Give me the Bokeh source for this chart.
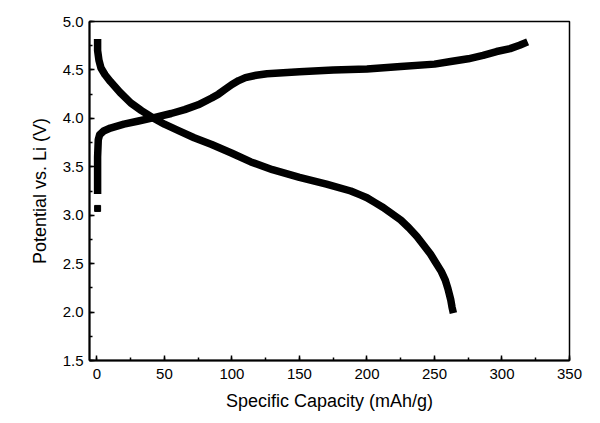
from bokeh.plotting import figure
from bokeh.models import SingleIntervalTicker, NumeralTickFormatter, Range1d
from bokeh.embed import file_html
from bokeh.resources import INLINE

# Discharge curve (mAh/g, V)
dis_cap = [0.5, 0.5, 1.5, 3, 6, 10, 17, 25, 33, 41, 50, 60, 72, 85, 100, 114, 130,
           150, 170, 188, 195, 200, 206, 212, 218, 225, 231, 237, 242, 247, 251, 255,
           258, 260, 262, 263, 264]
dis_v = [4.82, 4.7, 4.6, 4.52, 4.45, 4.38, 4.27, 4.16, 4.08, 4.01, 3.94, 3.875, 3.80,
         3.73, 3.64, 3.55, 3.47, 3.39, 3.32, 3.25, 3.21, 3.18, 3.13, 3.08, 3.02, 2.95,
         2.87, 2.78, 2.69, 2.60, 2.51, 2.42, 2.33, 2.24, 2.13, 2.05, 1.99]

# Charge curve (mAh/g, V)
chg_cap = [0.5, 0.5, 1, 2, 5, 10, 20, 30, 43, 55, 65, 75, 85, 90, 95, 100, 105, 110,
           118, 126, 150, 175, 200, 225, 250, 262, 275, 286, 296, 306, 313, 319]
chg_v = [3.22, 3.6, 3.78, 3.83, 3.87, 3.90, 3.94, 3.97, 4.01, 4.05, 4.09, 4.14, 4.21,
         4.25, 4.30, 4.35, 4.39, 4.42, 4.445, 4.46, 4.48, 4.50, 4.51, 4.535, 4.56,
         4.587, 4.615, 4.65, 4.69, 4.72, 4.755, 4.79]

# Isolated first point
pt_cap = [0.5]
pt_v = [3.07]

FONT = "Liberation Sans"

p = figure(width=592, height=415, output_backend="svg", toolbar_location=None,
           x_range=Range1d(-5.5, 350), y_range=Range1d(1.5, 5.0),
           min_border_left=89, min_border_right=23, min_border_top=21, min_border_bottom=55)

p.line(dis_cap, dis_v, line_width=7.5, color="black", line_join="round", line_cap="butt")
p.line(chg_cap, chg_v, line_width=7.5, color="black", line_join="round", line_cap="butt")
p.scatter(pt_cap, pt_v, marker="square", size=6, color="black")

p.xgrid.visible = False
p.ygrid.visible = False
p.outline_line_color = "black"
p.outline_line_width = 1.5
p.background_fill_color = "white"
p.border_fill_color = "white"

p.xaxis.ticker = SingleIntervalTicker(interval=50, num_minor_ticks=2)
p.yaxis.ticker = SingleIntervalTicker(interval=0.5, num_minor_ticks=2)
p.yaxis.formatter = NumeralTickFormatter(format="0.0")

for ax in (p.xaxis[0], p.yaxis[0]):
    ax.axis_line_width = 2
    ax.axis_line_color = "black"
    ax.major_tick_in = 5
    ax.major_tick_out = 0
    ax.minor_tick_in = 3
    ax.minor_tick_out = 0
    ax.major_tick_line_width = 1.5
    ax.minor_tick_line_width = 1.5
    ax.major_label_text_font = FONT
    ax.major_label_text_font_size = "15px"
    ax.major_label_text_color = "black"
    ax.axis_label_text_font = FONT
    ax.axis_label_text_font_size = "18px"
    ax.axis_label_text_font_style = "normal"
    ax.axis_label_text_color = "black"

p.xaxis.axis_label = "Specific Capacity (mAh/g)"
p.yaxis.axis_label = "Potential vs. Li (V)"
p.xaxis.major_label_standoff = 8
p.yaxis.major_label_standoff = 6
p.xaxis.axis_label_standoff = 9
p.yaxis.axis_label_standoff = 10

open("out.html", "w").write(file_html(p, INLINE))
